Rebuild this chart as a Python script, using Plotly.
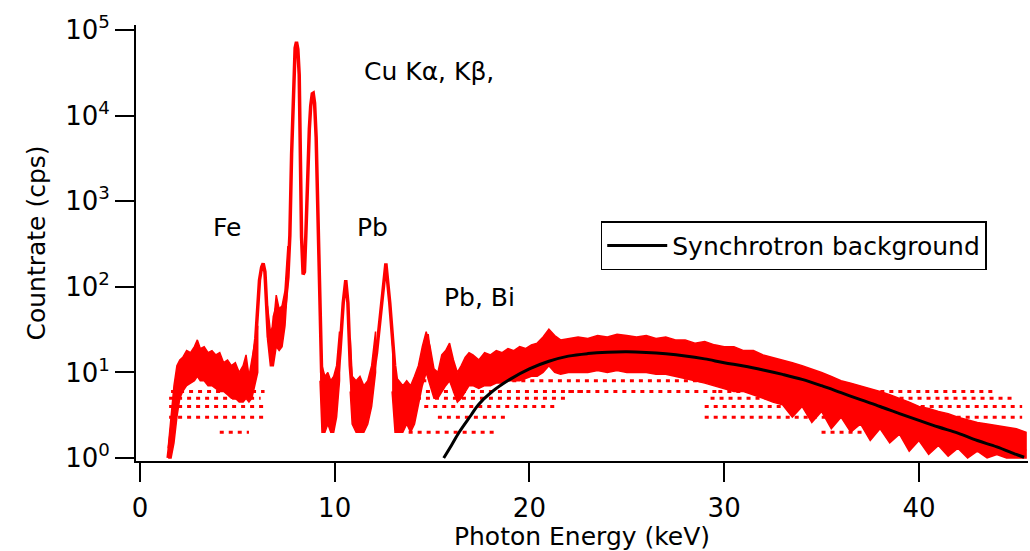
import math
import plotly.graph_objects as go

# ---------------- data ----------------
# central trace of the measured spectrum (keV, cps)
energy_keV = [1.45, 1.55, 1.7, 1.85, 2.0, 2.2, 2.4, 2.6, 2.8, 2.95, 3.1, 3.3, 3.5, 3.8, 4.0,
              4.3, 4.6, 4.9, 5.2, 5.45, 5.6, 5.8, 5.95, 6.06, 6.14, 6.25, 6.33, 6.42, 6.5,
              6.59, 6.75, 6.9, 7.05, 7.15, 7.3, 7.45, 7.6, 7.7, 7.79, 7.84, 7.9, 7.97, 8.04,
              8.11, 8.18, 8.22, 8.3, 8.38, 8.45, 8.52, 8.6, 8.7, 8.77, 8.85, 8.9, 8.97, 9.05,
              9.16, 9.25, 9.33, 9.5, 9.8, 10.05, 10.15, 10.27, 10.44, 10.57, 10.68, 10.8,
              10.9, 11.1, 11.4, 11.7, 12.0, 12.15, 12.4, 12.63, 12.83, 13.08, 13.25, 13.6,
              14.0, 14.3, 14.55, 14.75, 14.95, 15.2, 15.5, 15.85, 16.2, 16.5, 16.8, 17.0,
              17.3, 17.6, 18.0, 18.5, 19.0, 19.5, 20.0, 20.5, 20.85, 21.0, 21.2, 21.6, 22.5,
              24.0, 25.0, 26.0, 28.0, 30.0, 32.0, 34.0, 36.0, 38.0, 40.0, 42.0, 44.0, 45.5]
countrate = [1.0, 1.6, 3, 6, 9, 11, 13, 14, 16, 20, 15, 15, 13, 12, 12,
             10, 9, 8, 7, 12, 6, 12, 25, 54, 120, 170, 188, 150, 76,
             26, 20, 45, 60, 40, 45, 60, 130, 400, 3600, 9000, 34000, 62000, 73000,
             60000, 30000, 3600, 380, 140, 150, 400, 1600, 7000, 13000, 18000, 18300, 14000, 5600,
             380, 41, 10, 5, 4, 6, 8, 17, 65, 120, 65, 12,
             6, 4, 4, 5, 10, 17, 65, 188, 65, 12, 6, 4,
             4, 6, 15, 28, 12, 7, 12, 19, 9, 6, 11, 15,
             10, 11, 11, 12, 12.5, 13, 14, 16, 20, 28, 19, 16, 17,
             17.5, 17.5, 17, 15, 12.5, 10, 7.5, 5.5, 4, 2.8, 2, 1.5, 1.2]

# scatter band of the noisy spectrum (regions separated by None)
band_x = [1.45, 1.6, 1.75, 1.9, 2.05, 2.2, 2.4, 2.6, 2.8, 2.95, 3.1, 3.3, 3.5, 3.7, 3.9, 4.1,
          4.3, 4.5, 4.7, 4.9, 5.1, 5.3, 5.45, 5.6, 5.75, 5.9, 6.05, None,
          6.55, 6.7, 6.85, 7.0, 7.15, 7.3, 7.45, 7.6, None,
          9.25, 9.35, 9.5, 9.65, 9.8, 9.95, 10.1, 10.25, None,
          10.8, 10.9, 11.1, 11.3, 11.5, 11.7, 11.9, 12.1, None,
          12.95, 13.1, 13.3, 13.5, 13.7, 13.9, 14.1, 14.3, 14.5, 14.7, 14.9, 15.1, 15.3,
          15.5, 15.7, 15.9, 16.1, 16.3, 16.5, 16.7, 16.9, 17.1, 17.4, 17.7, 18.0, 18.3,
          18.6, 18.9, 19.2, 19.5, 19.8, 20.1, 20.4, 20.7, 21.0, 21.3, 21.6, 22.0, 22.5,
          23.0, 23.5, 24.0, 24.5, 25.0, 25.5, 26.0, 26.5, 27.0, 27.5, 28.0, 28.5, 29.0,
          29.5, 30.0, 30.5, 31.0, 31.5, 32.0, 32.5, 33.0, 33.5, 34.0, 34.5, 35.0, 35.5,
          36.0, 36.5, 37.0, 37.5, 38.0, 38.5, 39.0, 39.5, 40.0, 40.5, 41.0, 41.5, 42.0,
          42.5, 43.0, 43.5, 44.0, 44.5, 45.0, 45.5]
band_hi = [1.3, 3, 7, 12, 14, 15, 18, 17, 20, 24, 19, 20, 17, 18, 16, 17,
           13, 14, 12, 13, 10, 12, 16, 9, 14, 24, 35, None,
           60, 30, 35, 80, 55, 60, 90, 300, None,
           40, 12, 9, 10, 8, 9, 12, 30, None,
           25, 9, 8, 9, 7, 8, 12, 30, None,
           25, 9, 8, 7, 8, 7, 9, 12, 20, 30, 20, 11, 10,
           16, 18, 22, 14, 10, 12, 15, 17, 16, 14, 17, 16, 18,
           17, 19, 18, 20, 19, 21, 22, 26, 32, 27, 24, 25, 26,
           25, 27, 26, 28, 27, 26, 27, 25, 26, 24, 24, 22, 23,
           21, 20, 20, 18, 18, 16, 15, 14, 13, 12, 11, 10, 9,
           8, 7.5, 7, 6.5, 6, 5.5, 5, 4.5, 4, 3.8, 3.5, 3.3, 3.0,
           2.8, 2.6, 2.5, 2.4, 2.3, 2.2, 2.0]
band_lo = [1.0, 1.0, 1.5, 3, 5, 6, 7, 7.5, 8, 9, 8, 8, 7, 7, 6.5, 6,
           6, 5.5, 5, 5, 4.5, 4.5, 5, 4.5, 5, 7, 10, None,
           25, 12, 12, 20, 18, 20, 35, 120, None,
           8, 2, 2, 2.5, 2, 2, 3, 8, None,
           6, 2.5, 2, 2, 2, 2.5, 4, 10, None,
           6, 2, 2, 2, 2.5, 2, 2.5, 4, 7, 10, 7, 5, 5,
           6, 7, 8, 6, 4.5, 5, 6, 7, 7, 6.5, 7, 7, 7.5,
           7.5, 8, 8, 8, 8.5, 9, 9, 10, 12, 10, 9.5, 10, 10,
           10, 10.5, 10, 10.5, 10, 10, 10, 9.5, 9.5, 9, 8.5, 8, 7.5,
           7, 6.5, 6, 6, 5.5, 5, 4.5, 4.2, 3, 4, 2.6, 3.5, 2.2,
           3, 2.0, 2.5, 1.6, 2.2, 1.5, 1.9, 1.2, 1.6, 1.1, 1.4, 1.05, 1.3,
           1.0, 1.2, 1.0, 1.1, 1.0, 1.0, 1.0]

# discrete count levels seen as dotted rows (cps, start keV, end keV)
level_cps = [2, 3, 4, 5, 6, 2, 3, 4, 5, 6, 8, 8, 6, 8, 6, 5, 4, 3, 2]
level_start = [4.1, 1.5, 1.5, 1.5, 1.6, 13.8, 15.3, 14.6, 13.3, 13.3, 14.5, 21.0, 22.0,
               28.7, 29.7, 29.3, 29.0, 29.0, 35.0]
level_end = [5.6, 6.5, 6.5, 6.2, 6.4, 18.4, 18.9, 21.5, 22.0, 23.0, 21.0, 28.7, 29.7,
             33.8, 44.0, 45.0, 45.3, 45.3, 37.5]

# synchrotron background model
bg_keV = [15.6, 16.0, 16.36, 17.0, 17.38, 18.0, 19.0, 20.0, 21.0, 22.0, 23.0, 24.0, 25.0,
          26.0, 27.0, 28.0, 29.0, 30.0, 31.0, 32.0, 33.0, 34.0, 35.0, 36.0, 37.0, 38.0,
          39.0, 40.0, 41.0, 42.0, 43.0, 44.0, 45.0, 45.4]
bg_cps = [1.0, 1.41, 1.95, 3.16, 4.2, 5.75, 8.3, 11.0, 13.5, 15.5, 16.6, 17.2, 17.4,
          17.1, 16.5, 15.6, 14.4, 13.0, 11.9, 10.7, 9.5, 8.3, 7.0, 5.8, 4.8, 4.0,
          3.3, 2.75, 2.3, 1.95, 1.6, 1.35, 1.1, 1.02]

y_tick_vals = [1, 10, 100, 1000, 10000, 100000]
y_tick_text = ["10<sup>0</sup>", "10<sup>1</sup>", "10<sup>2</sup>",
               "10<sup>3</sup>", "10<sup>4</sup>", "10<sup>5</sup>"]
x_tick_vals = [0, 10, 20, 30, 40]

labels = ["Cu K\u03b1, K\u03b2,", "Fe", "Pb", "Pb, Bi"]
label_keV = [11.4, 4.49, 11.96, 15.5]
label_cps = [33000, 490, 490, 76]
label_anchor = ["left", "center", "center", "left"]

# ---------------- figure ----------------
RED = "#ff0000"
FONT = "DejaVu Sans"
fig = go.Figure()

# dotted count-level rows
for lv, xs, xe in zip(level_cps, level_start, level_end):
    fig.add_trace(go.Scatter(x=[xs, xe], y=[lv, lv], mode="lines",
                             line=dict(color=RED, width=3, dash="4px,5px"),
                             showlegend=False, hoverinfo="skip"))

# scatter band polygons
segments = []
cur = []
for x, h, l in zip(band_x, band_hi, band_lo):
    if x is None:
        segments.append(cur)
        cur = []
    else:
        cur.append((x, h, l))
segments.append(cur)
for seg in segments:
    xs = [p[0] for p in seg]
    hs = [p[1] for p in seg]
    ls = [p[2] for p in seg]
    fig.add_trace(go.Scatter(x=xs + xs[::-1], y=hs + ls[::-1], mode="lines",
                             fill="toself", fillcolor=RED,
                             line=dict(color=RED, width=1.5),
                             showlegend=False, hoverinfo="skip"))

# central spectrum line
fig.add_trace(go.Scatter(x=energy_keV, y=countrate, mode="lines",
                         line=dict(color=RED, width=3.5),
                         showlegend=False, name="Spectrum"))

# synchrotron background
fig.add_trace(go.Scatter(x=bg_keV, y=bg_cps, mode="lines",
                         line=dict(color="black", width=3, shape="spline"),
                         name="Synchrotron background", showlegend=True))

# peak labels (log axis: annotation y is given as log10 of the value)
for t, x, y, a in zip(labels, label_keV, label_cps, label_anchor):
    fig.add_annotation(x=x, y=math.log10(y), yref="y", xref="x", text=t,
                       showarrow=False, xanchor=a, yanchor="middle",
                       font=dict(family=FONT, size=25, color="black"))

axis_common = dict(showline=True, linewidth=2, linecolor="black",
                   ticks="outside", ticklen=19, tickwidth=2, tickcolor="black",
                   showgrid=False, zeroline=False,
                   tickfont=dict(family=FONT, size=26, color="black"))

fig.update_layout(
    width=1030, height=551,
    margin=dict(l=136, r=2, t=25, b=90),
    paper_bgcolor="white", plot_bgcolor="white",
    font=dict(family=FONT, size=25, color="black"),
    xaxis=dict(range=[-0.2, 45.6], tickvals=x_tick_vals, ticklabelstandoff=4,
               title=dict(text="Photon Energy (keV)", font=dict(family=FONT, size=25),
                          standoff=2),
               **axis_common),
    yaxis=dict(type="log", range=[-0.035, 5.06], tickvals=y_tick_vals,
               ticktext=y_tick_text,
               title=dict(text="Countrate (cps)", font=dict(family=FONT, size=25),
                          standoff=12),
               **axis_common),
    legend=dict(x=0.521, y=0.55, xanchor="left", yanchor="top",
                bordercolor="black", borderwidth=1.5, bgcolor="white",
                font=dict(family=FONT, size=25, color="black"),
                itemwidth=60),
    showlegend=True,
)

fig.write_html("out.html")
